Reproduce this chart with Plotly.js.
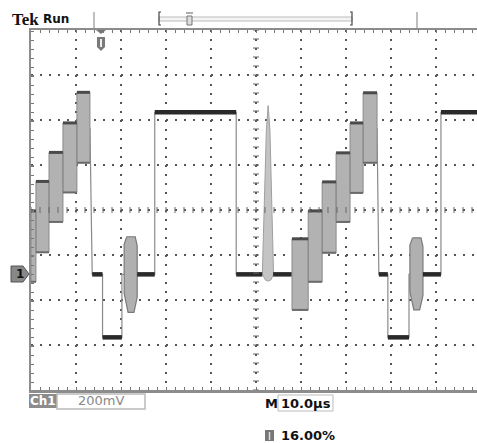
<!DOCTYPE html>
<html><head><meta charset="utf-8">
<script src="https://cdn.plot.ly/plotly-3.0.1.min.js"></script>
<style>
html,body{margin:0;padding:0;width:477px;height:443px;overflow:hidden;background:#fff}
#chart{width:492px;height:443px}
</style>
</head><body><div id="chart"></div>
<script>
// ---- scope settings ----
const timePerDiv = 10;        // µs / div
const voltsPerDiv = 200;      // mV / div
const groundOffsetDiv = -1.43; // CH1 ground marker position (div from centre)

// ---- staircase noise bands (µs, mV relative to ground) ----
const stepStart  = [0.0, 1.1, 4.0, 7.1, 10.2, 58.0, 61.6, 64.7, 67.8, 70.9, 73.8];
const stepEnd    = [1.1, 4.0, 7.1, 10.2, 13.1, 61.6, 64.7, 67.8, 70.9, 73.8, 76.9];
const stepTop    = [282, 413, 542, 673, 809, 158, 282, 411, 540, 673, 807];
const stepBottom = [-33, 98, 233, 364, 496, -158, -33, 96, 233, 362, 496];

// ---- bursts after the negative pulse ----
const burstStart  = [20.7, 84.2];
const burstEnd    = [23.6, 87.1];
const burstTop    = [167, 162];
const burstBottom = [-169, -158];

// ---- glitch spike outline ----
const spikeT = [51.4, 52.3, 52.7, 53.1, 53.9, 53.3, 52.7, 52.1, 51.4];
const spikeV = [0, 640, 750, 640, 0, -25, -30, -25, 0];

// ---- sharp trace (edges) ----
const traceT = [13.1, 13.6, 15.9, 15.9, 20.2, 20.2, 27.5, 27.5, 45.6, 45.6, 57.9, null, 76.9, 77.3, 79.3, 79.3, 84.0, 84.0, 91.1, 91.1, 100];
const traceV = [650, 0, 0, -280, -280, 0, 0, 720, 720, 0, 0, null, 650, 0, 0, -280, -280, 0, 0, 720, 720];

// ---- flat levels (thick dark) ----
const levelStart = [13.6, 15.9, 23.6, 27.5, 45.6, 53.8, 77.3, 79.3, 87.1, 91.1];
const levelEnd   = [15.9, 20.2, 27.5, 45.6, 51.4, 57.9, 79.3, 84.0, 91.1, 100];
const levelValue = [0, -280, 0, 720, 0, 0, 0, -280, 0, 720];

// ---- readouts ----
const chLabel = 'Ch1', voltLabel = '200mV', timeLabel = '10.0µs', trigLabel = '16.00%';

// ---------- build ----------
const yMin = (-4 - groundOffsetDiv) * voltsPerDiv;
const yMax = (4 - groundOffsetDiv) * voltsPerDiv;
const yCenter = -groundOffsetDiv * voltsPerDiv;

const bx = [], by = [], tx = [], ty = [], dx = [], dy = [];
stepStart.forEach((s, i) => {
  const e = stepEnd[i], t = stepTop[i], b = stepBottom[i];
  bx.push(s, e, e, s, s, null); by.push(t, t, b, b, t, null);
  tx.push(s, e, null); ty.push(t, t, null);
  dx.push(s, e, null); dy.push(b, b, null);
});
const ux = [], uy = [];
burstStart.forEach((s, i) => {
  const e = burstEnd[i], t = burstTop[i], b = burstBottom[i], w = e - s, h = t - b;
  ux.push(s + w*0.2, e - w*0.15, e, e, e - w*0.25, s + w*0.3, s, s, s + w*0.2, null);
  uy.push(t, t, t - h*0.12, b + h*0.2, b, b, b + h*0.25, t - h*0.1, t, null);
});
const lx = [], ly = [];
levelStart.forEach((s, i) => { lx.push(s, levelEnd[i], null); ly.push(levelValue[i], levelValue[i], null); });

const traces = [
  {x: traceT, y: traceV, mode: 'lines', line: {color: '#8a8a8a', width: 1.2}, connectgaps: false, hoverinfo: 'skip'},
  {x: bx, y: by, mode: 'lines', fill: 'toself', fillcolor: '#b2b2b2', line: {color: '#8a8a8a', width: 1}, hoverinfo: 'skip'},
  {x: dx, y: dy, mode: 'lines', line: {color: '#6a6a6a', width: 2}, hoverinfo: 'skip'},
  {x: tx, y: ty, mode: 'lines', line: {color: '#4a4a4a', width: 3}, hoverinfo: 'skip'},
  {x: ux, y: uy, mode: 'lines', fill: 'toself', fillcolor: '#b0b0b0', line: {color: '#7a7a7a', width: 1.2}, hoverinfo: 'skip'},
  {x: spikeT, y: spikeV, mode: 'lines', fill: 'toself', fillcolor: '#c4c4c4', line: {color: '#a0a0a0', width: 1}, hoverinfo: 'skip'},
  {x: lx, y: ly, mode: 'lines', line: {color: '#2a2a2a', width: 4.5}, hoverinfo: 'skip'}
];

// pixel helpers for decorations outside the graticule
const X = px => (px - 31) / 450;
const Y = py => (390 - py) / 360;

const shapes = [];
// centre cross-hair ticks
for (let t = 0; t <= 10 * timePerDiv; t += timePerDiv / 5) {
  shapes.push({type: 'line', xref: 'x', yref: 'y', ysizemode: 'pixel', yanchor: yCenter, y0: -3, y1: 3, x0: t, x1: t, line: {color: '#666', width: 1}});
}
for (let v = yMin; v <= yMax + 1; v += voltsPerDiv / 5) {
  shapes.push({type: 'line', xref: 'x', yref: 'y', xsizemode: 'pixel', xanchor: 5 * timePerDiv, x0: -3, x1: 3, y0: v, y1: v, line: {color: '#666', width: 1}});
}
// header: record bar
shapes.push({type: 'line', xref: 'paper', yref: 'paper', x0: X(94), x1: X(94), y0: Y(12), y1: Y(28), line: {color: '#aaa', width: 1.5}});
shapes.push({type: 'line', xref: 'paper', yref: 'paper', x0: X(417), x1: X(417), y0: Y(12), y1: Y(28), line: {color: '#aaa', width: 1.5}});
shapes.push({type: 'rect', xref: 'paper', yref: 'paper', x0: X(159), x1: X(352), y0: Y(21), y1: Y(17), line: {color: '#bbb', width: 1}, fillcolor: '#f4f4f4'});
shapes.push({type: 'path', xref: 'paper', yref: 'paper', path: `M${X(161)},${Y(12)} L${X(159)},${Y(12)} L${X(159)},${Y(25)} L${X(161)},${Y(25)}`, line: {color: '#444', width: 1.2}});
shapes.push({type: 'path', xref: 'paper', yref: 'paper', path: `M${X(350)},${Y(12)} L${X(352)},${Y(12)} L${X(352)},${Y(25)} L${X(350)},${Y(25)}`, line: {color: '#444', width: 1.2}});
shapes.push({type: 'rect', xref: 'paper', yref: 'paper', x0: X(187), x1: X(192), y0: Y(25), y1: Y(16), line: {color: '#777', width: 1}, fillcolor: '#ddd'});
shapes.push({type: 'line', xref: 'paper', yref: 'paper', x0: X(186), x1: X(193), y0: Y(13), y1: Y(13), line: {color: '#777', width: 1.2}});
// trigger position marker
shapes.push({type: 'path', xref: 'paper', yref: 'paper', path: `M${X(96)},${Y(30)} L${X(106)},${Y(30)} L${X(101)},${Y(34)} Z`, fillcolor: '#777', line: {width: 0}});
shapes.push({type: 'path', xref: 'paper', yref: 'paper', path: `M${X(97)},${Y(37)} L${X(105)},${Y(37)} L${X(105)},${Y(47)} L${X(101)},${Y(51)} L${X(97)},${Y(47)} Z`, fillcolor: '#7a7a7a', line: {width: 0}});
shapes.push({type: 'line', xref: 'paper', yref: 'paper', x0: X(101), x1: X(101), y0: Y(39), y1: Y(47), line: {color: '#eee', width: 2}});
// ground marker
shapes.push({type: 'path', xref: 'paper', yref: 'paper', path: `M${X(11)},${Y(266)} L${X(23)},${Y(266)} L${X(29)},${Y(274)} L${X(23)},${Y(282)} L${X(11)},${Y(282)} Z`, fillcolor: '#888', line: {color: '#555', width: 1}});
// readout boxes
shapes.push({type: 'rect', xref: 'paper', yref: 'paper', x0: X(29), x1: X(57), y0: Y(408), y1: Y(394), fillcolor: '#8c8c8c', line: {width: 0}});
shapes.push({type: 'rect', xref: 'paper', yref: 'paper', x0: X(57), x1: X(145), y0: Y(409), y1: Y(394), fillcolor: '#fff', line: {color: '#bbb', width: 1.5}});
shapes.push({type: 'rect', xref: 'paper', yref: 'paper', x0: X(278), x1: X(333), y0: Y(411), y1: Y(395), fillcolor: '#fff', line: {color: '#bbb', width: 1}});
shapes.push({type: 'rect', xref: 'paper', yref: 'paper', x0: X(265), x1: X(274), y0: Y(441), y1: Y(430), fillcolor: '#777', line: {width: 0}});
shapes.push({type: 'line', xref: 'paper', yref: 'paper', x0: X(269.5), x1: X(269.5), y0: Y(440), y1: Y(432), line: {color: '#ddd', width: 1.5}});

const ann = (px, py, text, font, anchor) => ({xref: 'paper', yref: 'paper', x: X(px), y: Y(py), text, showarrow: false, xanchor: anchor || 'left', yanchor: 'middle', font});
const annotations = [
  ann(10, 19, '<b>Tek</b>', {family: 'Liberation Serif', size: 17, color: '#111'}),
  ann(41, 19, '<b>Run</b>', {family: 'DejaVu Sans', size: 12, color: '#111'}),
  ann(20, 274, '<b>1</b>', {family: 'DejaVu Sans', size: 12, color: '#111'}, 'center'),
  ann(43, 401, '<b>' + chLabel + '</b>', {family: 'DejaVu Sans', size: 12, color: '#fff'}, 'center'),
  ann(101, 401, voltLabel, {family: 'DejaVu Sans', size: 13, color: '#888'}, 'center'),
  ann(263, 403, '<b>M</b>', {family: 'DejaVu Sans', size: 13, color: '#111'}),
  ann(306, 403, '<b>' + timeLabel + '</b>', {family: 'DejaVu Sans', size: 13, color: '#111'}, 'center'),
  ann(279, 435, '<b>' + trigLabel + '</b>', {family: 'DejaVu Sans', size: 13, color: '#111'})
];

const axisCommon = {
  showticklabels: false, zeroline: false, showline: true, linecolor: '#8c8c8c', linewidth: 2.5,
  mirror: 'allticks', ticks: 'inside', ticklen: 3, tickcolor: '#777', tickwidth: 1,
  showgrid: true, gridcolor: '#555', gridwidth: 1.5, griddash: '1.5px,7.5px', fixedrange: true
};
const layout = {
  width: 492, height: 443,
  margin: {l: 31, r: 11, t: 30, b: 53},
  paper_bgcolor: '#fff', plot_bgcolor: '#fff', showlegend: false,
  xaxis: Object.assign({}, axisCommon, {range: [0, 10 * timePerDiv], dtick: timePerDiv, tick0: 0,
    minor: {dtick: timePerDiv / 5, ticks: 'inside', ticklen: 3, tickcolor: '#777', showgrid: false}}),
  yaxis: Object.assign({}, axisCommon, {range: [yMin, yMax], dtick: voltsPerDiv, tick0: yMin,
    minor: {dtick: voltsPerDiv / 5, ticks: 'inside', ticklen: 3, tickcolor: '#777', showgrid: false}}),
  shapes, annotations
};
Plotly.newPlot('chart', traces, layout, {staticPlot: true, displayModeBar: false});
</script>
</body></html>
